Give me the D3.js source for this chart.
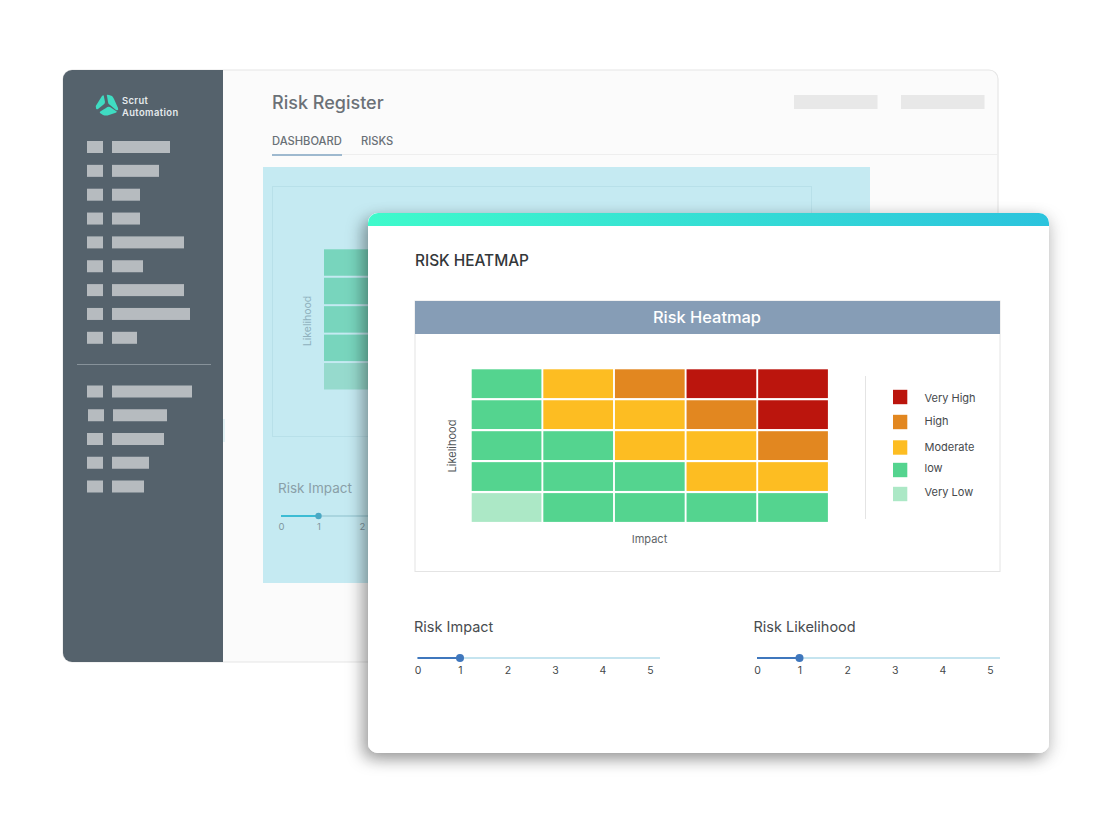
<!DOCTYPE html>
<html>
<head>
<meta charset="utf-8">
<script src="https://cdn.jsdelivr.net/npm/d3@7"></script>
<style>
  html, body { margin: 0; padding: 0; background: #fff; }
  svg { display: block; font-family: Inter, "Noto Sans", sans-serif; }
</style>
</head>
<body>
<svg width="1116" height="824"></svg>
<script>
// chart data
const impactLabels = [1, 2, 3, 4, 5];
const likelihoodLabels = [5, 4, 3, 2, 1];
const levels = ["Very High", "High", "Moderate", "low", "Very Low"];
const levelColors = ["#bb150d", "#e28720", "#fdbd22", "#54d48f", "#ace8c6"];
const backColors = ["#8a8a70", "#9aa880", "#a0c4a0", "#78d5bd", "#96dacd"];
const riskRow5 = ["low", "Moderate", "High", "Very High", "Very High"];
const riskRow4 = ["low", "Moderate", "Moderate", "High", "Very High"];
const riskRow3 = ["low", "low", "Moderate", "Moderate", "High"];
const riskRow2 = ["low", "low", "low", "Moderate", "Moderate"];
const riskRow1 = ["Very Low", "low", "low", "low", "low"];
const riskRows = [riskRow5, riskRow4, riskRow3, riskRow2, riskRow1];
const sliderTicks = [0, 1, 2, 3, 4, 5];
const sliderValue = 1;
// placeholder lengths of the sidebar menu
const navTop = [58, 47, 28, 28, 72, 31, 72, 78, 25];
const navBottom = [80, 54, 52, 37, 32];

const svg = d3.select("svg");
const defs = svg.append("defs");

const addShadow = (id, dx, dy, blur, opacity) => {
    defs.append("filter").attr("id", id)
        .attr("x", "-10%").attr("y", "-10%").attr("width", "120%").attr("height", "120%")
      .append("feDropShadow")
        .attr("dx", dx).attr("dy", dy).attr("stdDeviation", blur)
        .attr("flood-color", "#000").attr("flood-opacity", opacity);
};
addShadow("cardShadow", -6, 6, 8, 0.34);
addShadow("cardGlow", 4, 4, 8, 0.12);

const topGrad = defs.append("linearGradient").attr("id", "topBar");
topGrad.append("stop").attr("offset", "0%").attr("stop-color", "#3ffacb");
topGrad.append("stop").attr("offset", "100%").attr("stop-color", "#2bc3dd");

defs.append("clipPath").attr("id", "backClip")
  .append("rect").attr("x", 63).attr("y", 70).attr("width", 935).attr("height", 592).attr("rx", 9);

const cellsOf = () => riskRows.flatMap((row, r) =>
    row.map((level, c) => ({ level, impact: impactLabels[c], likelihood: likelihoodLabels[r] })));

// ---- back panel (Risk Register) ----
const back = svg.append("g");
back.append("rect")
    .attr("x", 63).attr("y", 70).attr("width", 935).attr("height", 592).attr("rx", 9)
    .attr("fill", "#fbfbfb").attr("stroke", "#e6e6e6").attr("stroke-width", 1.2);

const backClipped = back.append("g").attr("clip-path", "url(#backClip)");
backClipped.append("rect").attr("x", 63).attr("y", 70).attr("width", 160).attr("height", 592).attr("fill", "#55626c");
backClipped.append("rect").attr("x", 223).attr("y", 419).attr("width", 2).attr("height", 23).attr("fill", "#e2f1f4");

// logo
const logo = back.append("g").attr("fill", "#3fdcc2");
logo.append("path").attr("d", "M96,108 Q95,106 97,104 L102,96 Q104,94 104,97 L105,102 Q105,104 103,105 L98,109 Q96,110 96,108Z");
logo.append("path").attr("d", "M107,96 Q106,94 109,95 L112,96 Q113,97 114,99 L118,108 Q119,111 116,110 L110,105 Q108,104 108,102Z");
logo.append("path").attr("d", "M100,113 Q99,112 101,111 L106,108 Q108,106 110,107 L116,111 Q118,112 115,113 L109,115 Q106,116 103,115Z");
const logoText = back.append("g").attr("font-size", 9.4).attr("font-weight", 600).attr("fill", "#e6eaec").attr("letter-spacing", 0.4);
logoText.append("text").attr("x", 122).attr("y", 104).text("Scrut");
logoText.append("text").attr("x", 122).attr("y", 115.5).text("Automation");

// sidebar placeholders
const navLen = d3.scaleLinear().domain([0, 100]).range([0, 100]);
const drawNav = (values, top, step, nudged) => {
    const y = d3.scaleBand().domain(d3.range(values.length))
        .range([top, top + step * values.length]);
    const row = back.append("g").selectAll("g").data(values).join("g")
        .attr("transform", (d, i) => `translate(${i === nudged ? 1 : 0},${y(i)})`);
    row.append("rect").attr("x", 87).attr("width", 16).attr("height", 12).attr("fill", "#b6bbbf");
    row.append("rect").attr("x", 112).attr("width", d => navLen(d)).attr("height", 12).attr("fill", "#b6bbbf");
};
drawNav(navTop, 141, 23.85);
back.append("line").attr("x1", 77).attr("x2", 211).attr("y1", 364.5).attr("y2", 364.5).attr("stroke", "#87929a");
drawNav(navBottom, 385.5, 23.75, 1);

// header
back.append("text").attr("x", 272).attr("y", 108.5).attr("font-size", 18).attr("font-weight", 500).attr("fill", "#6b7177").text("Risk Register");
back.append("text").attr("x", 272).attr("y", 145).attr("font-size", 11.2).attr("font-weight", 500).attr("fill", "#697076").text("DASHBOARD");
back.append("text").attr("x", 361).attr("y", 145).attr("font-size", 11.2).attr("font-weight", 500).attr("fill", "#697076").text("RISKS");
back.append("line").attr("x1", 342).attr("x2", 998).attr("y1", 154.5).attr("y2", 154.5).attr("stroke", "#eeeeee");
back.append("line").attr("x1", 272).attr("x2", 342).attr("y1", 155).attr("y2", 155).attr("stroke", "#7fa3c0").attr("stroke-width", 1.6);
back.append("rect").attr("x", 794).attr("y", 95).attr("width", 83.5).attr("height", 14).attr("fill", "#e8e8e8");
back.append("rect").attr("x", 901).attr("y", 95).attr("width", 83.5).attr("height", 14).attr("fill", "#e8e8e8");

// dimmed dashboard behind the card
back.append("rect").attr("x", 263).attr("y", 167).attr("width", 607).attr("height", 416).attr("fill", "#c5eaf2");
back.append("rect").attr("x", 272.5).attr("y", 186.5).attr("width", 539).attr("height", 250)
    .attr("fill", "none").attr("stroke", "#b8e0e9");

const backX = d3.scaleBand().domain(impactLabels).range([324, 324 + 5 * 60]).paddingInner(0.03);
const backY = d3.scaleBand().domain(likelihoodLabels).range([249.3, 389.5]).paddingInner(0.07);
const backColor = d3.scaleOrdinal().domain(levels).range(backColors);
back.append("g").selectAll("rect").data(cellsOf()).join("rect")
    .attr("x", d => backX(d.impact))
    .attr("y", d => backY(d.likelihood))
    .attr("width", backX.bandwidth())
    .attr("height", backY.bandwidth())
    .attr("fill", d => backColor(d.level));
back.append("text")
    .attr("transform", "translate(311,321) rotate(-90)")
    .attr("text-anchor", "middle").attr("font-size", 10.5).attr("fill", "#8fb1bd").text("Likelihood");

const drawSlider = (parent, opts) => {
    const x = d3.scaleLinear().domain([0, 1, 5]).range(opts.range);
    const g = parent.append("g");
    g.append("line").attr("x1", x(0)).attr("x2", opts.end).attr("y1", opts.y).attr("y2", opts.y)
        .attr("stroke", opts.rest).attr("stroke-width", 2);
    g.append("line").attr("x1", x(0)).attr("x2", x(sliderValue)).attr("y1", opts.y).attr("y2", opts.y)
        .attr("stroke", opts.fill).attr("stroke-width", 2);
    g.append("circle").attr("cx", x(sliderValue)).attr("cy", opts.y).attr("r", opts.r).attr("fill", opts.handle);
    const axis = g.append("g")
        .attr("transform", `translate(0,${opts.y})`)
        .call(d3.axisBottom(x).tickValues(sliderTicks).tickSize(0).tickPadding(opts.pad).tickFormat(d3.format("d")));
    axis.select(".domain").remove();
    axis.selectAll("text").attr("font-family", "Inter, sans-serif").attr("font-size", opts.size).attr("fill", opts.text);
    parent.append("text").attr("x", opts.titleX).attr("y", opts.titleY)
        .attr("font-size", opts.titleSize).attr("fill", opts.titleColor).text(opts.title);
};

drawSlider(back, {
    range: [281, 318.5, 492], end: 500, y: 516, r: 3.2, pad: 7, size: 9.5,
    rest: "#a9d5df", fill: "#3cbcd4", handle: "#4ba8c4", text: "#80969f",
    title: "Risk Impact", titleX: 278, titleY: 493, titleSize: 13.5, titleColor: "#8aa0a8"
});

// ---- front card (Risk Heatmap) ----
const card = svg.append("g");
card.append("rect")
    .attr("x", 368).attr("y", 213).attr("width", 681).attr("height", 540).attr("rx", 10)
    .attr("fill", "#fff").attr("filter", "url(#cardGlow)");
card.append("rect")
    .attr("x", 368).attr("y", 213).attr("width", 681).attr("height", 540).attr("rx", 10)
    .attr("fill", "#fff").attr("filter", "url(#cardShadow)");
card.append("rect")
    .attr("x", 368).attr("y", 213).attr("width", 681).attr("height", 540).attr("rx", 10)
    .attr("fill", "#fff");
defs.append("clipPath").attr("id", "cardClip")
  .append("rect").attr("x", 368).attr("y", 213).attr("width", 681).attr("height", 540).attr("rx", 10);
card.append("rect").attr("clip-path", "url(#cardClip)")
    .attr("x", 368).attr("y", 213).attr("width", 681).attr("height", 13).attr("fill", "url(#topBar)");

card.append("text").attr("x", 415).attr("y", 265.5).attr("font-size", 15.4).attr("font-weight", 500).attr("fill", "#33373a").text("RISK HEATMAP");

card.append("rect").attr("x", 415).attr("y", 301).attr("width", 585).attr("height", 270.5)
    .attr("fill", "#fff").attr("stroke", "#e4e4e4");
card.append("rect").attr("x", 415).attr("y", 301).attr("width", 585).attr("height", 33).attr("fill", "#869db6");
card.append("text").attr("x", 707).attr("y", 323).attr("text-anchor", "middle")
    .attr("font-size", 16.4).attr("font-weight", 500).attr("fill", "#fff").text("Risk Heatmap");

const x = d3.scaleBand().domain(impactLabels).range([471.7, 827.9]).paddingInner(0.0265);
const y = d3.scaleBand().domain(likelihoodLabels).range([369.3, 521.9]).paddingInner(0.07);
const color = d3.scaleOrdinal().domain(levels).range(levelColors);

card.append("g").selectAll("rect").data(cellsOf()).join("rect")
    .attr("x", d => x(d.impact))
    .attr("y", d => y(d.likelihood))
    .attr("width", x.bandwidth())
    .attr("height", y.bandwidth())
    .attr("fill", d => color(d.level));

card.append("text")
    .attr("transform", "translate(456,446) rotate(-90)")
    .attr("text-anchor", "middle").attr("font-size", 11).attr("fill", "#505457").text("Likelihood");
card.append("text").attr("x", 649.5).attr("y", 543).attr("text-anchor", "middle")
    .attr("font-size", 11).attr("fill", "#606467").text("Impact");

// legend
card.append("line").attr("x1", 865.5).attr("x2", 865.5).attr("y1", 376).attr("y2", 519).attr("stroke", "#e4e4e4");
const swatchY = d3.scaleOrdinal().domain(levels).range([397, 422, 447.5, 470, 494]);
const labelY = d3.scaleOrdinal().domain(levels).range([398, 421, 447, 468.5, 492]);
const legend = card.append("g").selectAll("g").data(levels).join("g");
legend.append("rect")
    .attr("x", 893).attr("y", d => swatchY(d) - 7.2)
    .attr("width", 14.3).attr("height", 14.4)
    .attr("fill", d => color(d));
legend.append("text")
    .attr("x", 924.5).attr("y", d => labelY(d)).attr("dy", "0.35em")
    .attr("font-size", 11).attr("fill", "#45494c")
    .text(d => d);

const sliderStyle = {
    y: 658, r: 4, pad: 9, size: 10.5, titleY: 632, titleSize: 14.5,
    rest: "#c5e4ef", fill: "#3f77bd", handle: "#3f77bd", text: "#44484b", titleColor: "#484c4f"
};
drawSlider(card, { ...sliderStyle, range: [417.5, 460, 650], end: 660, title: "Risk Impact", titleX: 414 });
drawSlider(card, { ...sliderStyle, range: [757, 799.5, 990], end: 1000, title: "Risk Likelihood", titleX: 753.5 });
</script>
</body>
</html>
